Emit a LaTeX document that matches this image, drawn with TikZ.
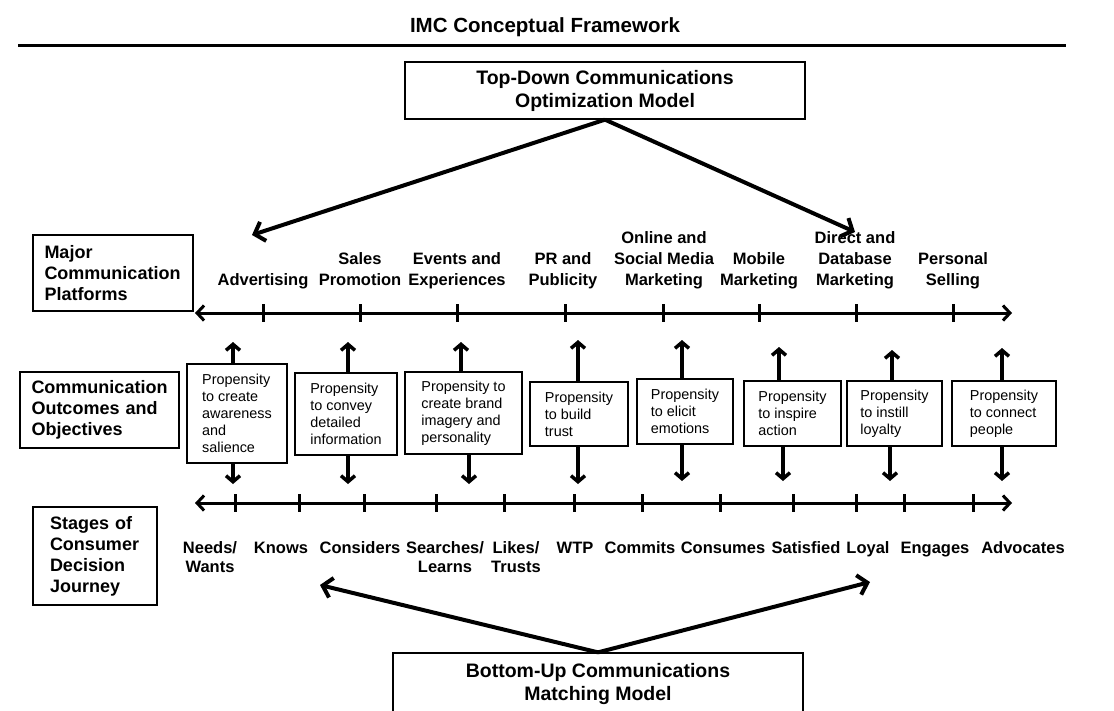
\documentclass[tikz,border=0pt]{standalone}
\usepackage{fontspec}
\setmainfont{Liberation Sans}
\usetikzlibrary{arrows.meta}

\begin{document}
\begin{tikzpicture}[
        x=1pt, y=-1pt,
        every node/.style={inner sep=0pt},
        model/.style={draw, line width=1.3pt, align=center,
            font=\bfseries\fontsize{19.5}{23}\selectfont},
        group/.style={draw, line width=1.3pt, align=left,
            font=\bfseries\fontsize{18}{21}\selectfont},
        outcome/.style={draw, line width=1.3pt, align=left,
            font=\fontsize{14.4}{17}\selectfont},
        platform/.style={anchor=south, align=center, text depth=4pt,
            font=\bfseries\fontsize{16.5}{21}\selectfont},
        stage/.style={anchor=base, align=center,
            font=\bfseries\fontsize{16.5}{19.5}\selectfont},
        axis/.style={line width=3pt,
            {Straight Barb[length=7pt,width=15pt]}-{Straight Barb[length=7pt,width=15pt]}},
        tick/.style={line width=3pt},
        link/.style={line width=3.5pt, -{Straight Barb[length=6pt,width=14pt]}},
        fan/.style={line width=4pt, -{Straight Barb[length=9pt,width=20pt]}},
        ]
        \useasboundingbox (0,0) rectangle (1114,710);

        \node[font=\bfseries\fontsize{20.5}{24}\selectfont] (title) at (545,27) {IMC Conceptual Framework};
        \coordinate (rule west) at (18,45);
        \coordinate (rule east) at (1066,45);
        \draw[line width=3pt] (rule west) -- (rule east);

        \node[model, minimum width=400pt, minimum height=57pt] (topdown) at (605,90.5) {Top-Down Communications\\Optimization Model};
        \node[model, minimum width=410pt, minimum height=61pt] (bottomup) at (598,683.5) {Bottom-Up Communications\\Matching Model};

        \node[group, minimum width=160pt, minimum height=76pt, text width=137pt] (platforms) at (113,273) {Major\\Communication\\Platforms};
        \node[group, minimum width=159pt, minimum height=76pt, text width=136pt] (outcomes) at (99.5,410) {Communication\\Outcomes and\\Objectives};
        \node[group, minimum width=124pt, minimum height=98pt, text width=90pt] (journey) at (95,556) {Stages of\\Consumer\\Decision\\Journey};

        % platforms axis
        \coordinate (pl west) at (195,313);
        \coordinate (pl east) at (1012,313);
        \draw[axis] (pl west) -- (pl east);
        \foreach \x in {263,360,457,565,663,759,856,953}
            \draw[tick] (\x,304) -- (\x,322);
        \node[platform] (advertising) at (263,290) {Advertising};
        \node[platform] (sales) at (360,290) {Sales\\Promotion};
        \node[platform] (events) at (457,290) {Events and\\Experiences};
        \node[platform] (pr) at (563,290) {PR and\\Publicity};
        \node[platform] (online) at (664,290) {Online and\\Social Media\\Marketing};
        \node[platform] (mobile) at (759,290) {Mobile\\Marketing};
        \node[platform] (direct) at (855,290) {Direct and\\Database\\Marketing};
        \node[platform] (personal) at (953,290) {Personal\\Selling};

        % outcomes
        \node[outcome, minimum width=100pt, minimum height=99pt] (b1) at (237,413.5) {Propensity\\to create\\awareness\\and\\salience};
        \node[outcome, minimum width=102pt, minimum height=82pt] (b2) at (346,414) {Propensity\\to convey\\detailed\\information};
        \node[outcome, minimum width=117pt, minimum height=82pt] (b3) at (463.5,413) {Propensity to\\create brand\\imagery and\\personality};
        \node[outcome, minimum width=98pt, minimum height=64pt] (b4) at (579,414) {Propensity\\to build\\trust};
        \node[outcome, minimum width=96pt, minimum height=65pt] (b5) at (685,411.5) {Propensity\\to elicit\\emotions};
        \node[outcome, minimum width=97pt, minimum height=65pt] (b6) at (792.5,413.5) {Propensity\\to inspire\\action};
        \node[outcome, minimum width=95pt, minimum height=65pt] (b7) at (894.5,413.5) {Propensity\\to instill\\loyalty};
        \node[outcome, minimum width=104pt, minimum height=65pt] (b8) at (1004,413.5) {Propensity\\to connect\\people};

        \foreach \i/\ux/\uy/\dx/\dy in {1/233/342/233/484, 2/348/342/348/484, 3/461/342/469/484,
                4/578/340/578/484, 5/682/340/682/481, 6/779/347/783/481, 7/892/350/890/481, 8/1002/348/1002/481} {
            \coordinate (up\i) at (\ux,\uy);
            \coordinate (dn\i) at (\dx,\dy);
            \draw[link] (b\i.north -| up\i) -- (up\i);
            \draw[link] (b\i.south -| dn\i) -- (dn\i);
        }

        % journey axis
        \coordinate (sj west) at (195,503);
        \coordinate (sj east) at (1012,503);
        \draw[axis] (sj west) -- (sj east);
        \foreach \x in {235,299,364,436,504,574,642,720,793,856,904,973}
            \draw[tick] (\x,494) -- (\x,512);
        \node[stage] (needs) at (210,572.5) {Needs/\\Wants};
        \node[stage] (knows) at (281,553) {Knows};
        \node[stage] (considers) at (360,553) {Considers};
        \node[stage] (searches) at (445,572.5) {Searches/\\Learns};
        \node[stage] (likes) at (516,572.5) {Likes/\\Trusts};
        \node[stage] (wtp) at (575,553) {WTP};
        \node[stage] (commits) at (640,553) {Commits};
        \node[stage] (consumes) at (723,553) {Consumes};
        \node[stage] (satisfied) at (806,553) {Satisfied};
        \node[stage] (loyal) at (868,553) {Loyal};
        \node[stage] (engages) at (935,553) {Engages};
        \node[stage] (advocates) at (1023,553) {Advocates};

        % the two models
        \coordinate (top left) at (252,235);
        \coordinate (top right) at (855,232);
        \draw[fan] (topdown.south) -- (top left);
        \draw[fan] (topdown.south) -- (top right);
        \coordinate (low left) at (320,585);
        \coordinate (low right) at (870,582);
        \draw[fan] (bottomup.north) -- (low left);
        \draw[fan] (bottomup.north) -- (low right);
    \end{tikzpicture}
\end{document}
